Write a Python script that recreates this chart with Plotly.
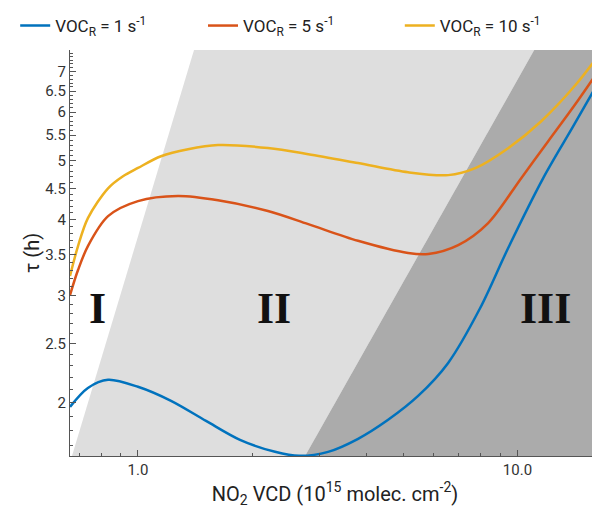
import numpy as np
import plotly.graph_objects as go

# NO2 VCD (1e15 molec cm-2) and tau (h)
no2_blue = [0.662, 0.738, 0.834, 1.0, 1.222, 1.511, 1.857, 2.297, 2.658, 3.169,
            3.802, 4.562, 5.472, 6.567, 7.975, 9.452, 11.69, 14.03, 16.52]
tau_blue = [1.970, 2.116, 2.182, 2.125, 2.015, 1.868, 1.739, 1.662, 1.637, 1.662,
            1.746, 1.876, 2.053, 2.326, 2.862, 3.591, 4.676, 5.690, 6.795]

no2_red = [0.662, 0.695, 0.738, 0.834, 1.0, 1.275, 1.625, 2.20, 2.81, 3.80,
           5.15, 5.82, 6.98, 8.37, 10.23, 12.05, 14.2, 16.52]
tau_red = [3.006, 3.304, 3.617, 4.05, 4.287, 4.37, 4.30, 4.13, 3.93, 3.69,
           3.524, 3.511, 3.631, 3.946, 4.676, 5.377, 6.183, 7.085]

no2_yel = [0.662, 0.695, 0.738, 0.834, 0.913, 1.0, 1.15, 1.355, 1.625, 2.20,
           2.81, 3.80, 5.15, 6.57, 7.74, 9.45, 11.55, 14.2, 16.52]
tau_yel = [3.23, 3.617, 4.02, 4.50, 4.71, 4.86, 5.08, 5.217, 5.30, 5.24,
           5.12, 4.95, 4.78, 4.73, 4.856, 5.236, 5.799, 6.642, 7.50]

series = [
    ("VOC<sub>R</sub> = 1 s<sup>-1</sup>", no2_blue, tau_blue, "#0072BD", "legend"),
    ("VOC<sub>R</sub> = 5 s<sup>-1</sup>", no2_red, tau_red, "#D95319", "legend2"),
    ("VOC<sub>R</sub> = 10 s<sup>-1</sup>", no2_yel, tau_yel, "#EDB120", "legend3"),
]

# regime boundaries: NO2 value where each boundary meets the bottom / top of the axes
x_range = [0.662, 16.5]
y_range = [1.636, 7.59]
bound_1 = [0.67, 1.405]
bound_2 = [2.756, 11.07]

region_labels = ["I", "II", "III"]
region_x = [0.78, 2.285, 11.83]
region_y = 2.86

y_ticks = [2, 2.5, 3, 3.5, 4, 4.5, 5, 5.5, 6, 6.5, 7]
y_minor = [round(v, 1) for v in np.arange(1.7, 7.6, 0.1)]
x_ticks = [1, 10]
x_ticktext = ["1.0", "10.0"]
x_minor = [0.7, 0.8, 0.9, 2, 3, 4, 5, 6, 7, 8, 9]

fig = go.Figure()

# shaded regimes II and III
fig.add_trace(go.Scatter(
    x=[bound_1[0], bound_2[0], bound_2[1], bound_1[1], bound_1[0]],
    y=[y_range[0], y_range[0], y_range[1], y_range[1], y_range[0]],
    fill="toself", fillcolor="#dedede", line=dict(width=0),
    mode="lines", showlegend=False, hoverinfo="skip",
))
fig.add_trace(go.Scatter(
    x=[bound_2[0], 20, 20, bound_2[1], bound_2[0]],
    y=[y_range[0], y_range[0], y_range[1], y_range[1], y_range[0]],
    fill="toself", fillcolor="#ababab", line=dict(width=0),
    mode="lines", showlegend=False, hoverinfo="skip",
))

for name, x, y, color, legend in series:
    fig.add_trace(go.Scatter(
        x=x, y=y, name=name, mode="lines", legend=legend,
        line=dict(color=color, width=2.5, shape="spline", smoothing=0.9),
    ))

for label, x in zip(region_labels, region_x):
    fig.add_annotation(
        x=np.log10(x), y=np.log10(region_y), text=f"<b>{label}</b>",
        showarrow=False, font=dict(family="Liberation Serif", size=44, color="#111111"),
    )

axis_common = dict(
    type="log", showgrid=False, zeroline=False, showline=True, automargin=False,
    linecolor="#555555", linewidth=1, ticks="inside", ticklen=6,
    tickcolor="#555555", tickfont=dict(size=15, color="#333333"),
)

fig.update_xaxes(
    **axis_common,
    range=[np.log10(x_range[0]), np.log10(x_range[1])],
    tickvals=x_ticks, ticktext=x_ticktext,
    minor=dict(tickvals=x_minor, ticks="inside", ticklen=3, tickcolor="#555555"),
    title=dict(text="NO<sub>2</sub> VCD (10<sup>15</sup> molec. cm<sup>-2</sup>)",
               font=dict(size=20, color="#222222"), standoff=8),
)
fig.update_yaxes(
    **axis_common,
    range=[np.log10(y_range[0]), np.log10(y_range[1])],
    tickvals=y_ticks, ticktext=[str(v) for v in y_ticks],
    minor=dict(tickvals=y_minor, ticks="inside", ticklen=3, tickcolor="#555555"),
    title=dict(text="τ (h)", font=dict(size=20, color="#222222"), standoff=0),
)

legend_style = dict(
    orientation="h", xref="container", yref="container",
    xanchor="left", y=1.0, yanchor="top",
    font=dict(size=17), bgcolor="rgba(0,0,0,0)",
)

fig.update_layout(
    width=600, height=510,
    margin=dict(l=62, r=8, t=42, b=62, autoexpand=False),
    plot_bgcolor="white", paper_bgcolor="white",
    font=dict(family="Roboto", color="#222222"),
    legend=dict(**legend_style, x=0.012),
    legend2=dict(**legend_style, x=0.325),
    legend3=dict(**legend_style, x=0.653),
)

fig.write_html("out.html")
